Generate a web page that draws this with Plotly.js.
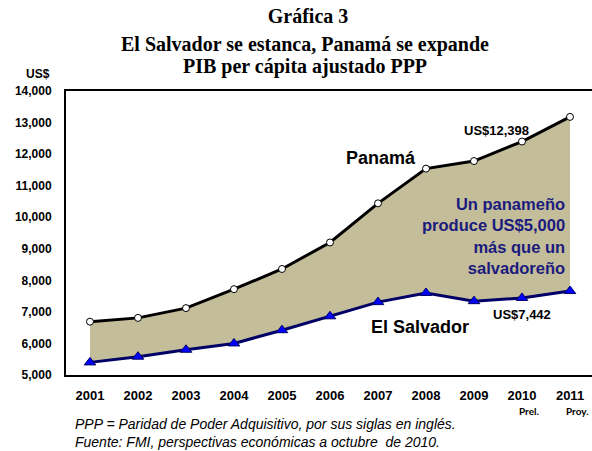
<!DOCTYPE html>
<html>
<head>
<meta charset="utf-8">
<script src="https://cdn.plot.ly/plotly-3.0.1.min.js"></script>
<style>
  html, body { margin: 0; padding: 0; overflow: hidden; background: #fff; }
  #chart { width: 594px; height: 451px; }
</style>
</head>
<body>
<div id="chart"></div>
<script>
// ---- data ----
const years = [2001, 2002, 2003, 2004, 2005, 2006, 2007, 2008, 2009, 2010, 2011];
const yearLabels = ['2001', '2002', '2003', '2004', '2005', '2006', '2007', '2008', '2009', '2010', '2011'];
const panama = [6690, 6810, 7120, 7720, 8360, 9200, 10440, 11540, 11780, 12398, 13180];
const elSalvador = [5400, 5580, 5800, 6000, 6420, 6860, 7310, 7600, 7340, 7442, 7660];
const seriesNames = ['Panamá', 'El Salvador'];
const yTicks = [5000, 6000, 7000, 8000, 9000, 10000, 11000, 12000, 13000, 14000];
const noteLines = ['Un panameño', 'produce US$5,000', 'más que un', 'salvadoreño'];
const titleLines = ['Gráfica 3', 'El Salvador se estanca, Panamá se expande', 'PIB per cápita ajustado PPP'];
const footnotes = ['PPP = Paridad de Poder Adquisitivo, por sus siglas en inglés.',
                   'Fuente: FMI, perspectivas económicas a octubre  de 2010.'];
const yearNotes = {2010: 'Prel.', 2011: 'Proy.'};

// ---- layout helpers (pixel -> paper) ----
const W = 594, H = 451;
const M = {l: 66, r: 0, t: 91, b: 76};
const PW = W - M.l - M.r, PH = H - M.t - M.b;
const px = x => (x - M.l) / PW;
const py = y => (H - M.b - y) / PH;

const sans = 'Arial, "Liberation Sans", sans-serif';
const serif = '"Book Antiqua", Palatino, "Liberation Serif", serif';
const fmt = v => 'US$' + v.toLocaleString('en-US');

const traces = [
  {
    x: years, y: elSalvador, name: seriesNames[1], type: 'scatter', mode: 'lines+markers',
    line: {color: '#000066', width: 3},
    marker: {symbol: 'triangle-up', size: 10, color: '#0000FF', line: {color: '#000066', width: 1}},
    hoverinfo: 'x+y'
  },
  {
    x: years, y: panama, name: seriesNames[0], type: 'scatter', mode: 'lines+markers',
    fill: 'tonexty', fillcolor: '#C4BD99',
    line: {color: '#000000', width: 3},
    marker: {symbol: 'circle', size: 7, color: '#FFFFFF', line: {color: '#000000', width: 1}},
    hoverinfo: 'x+y'
  }
];

const annotations = [];
// subtitle lines
annotations.push({xref: 'paper', yref: 'paper', x: px(305), y: py(44), xanchor: 'center', yanchor: 'middle',
  text: '<b>' + titleLines[1] + '</b>', showarrow: false, font: {family: serif, size: 20, color: '#000'}});
annotations.push({xref: 'paper', yref: 'paper', x: px(305), y: py(67), xanchor: 'center', yanchor: 'middle',
  text: '<b>' + titleLines[2] + '</b>', showarrow: false, font: {family: serif, size: 20, color: '#000'}});
// US$ unit label
annotations.push({xref: 'paper', yref: 'paper', x: px(38), y: py(74), xanchor: 'center', yanchor: 'middle',
  text: '<b>US$</b>', showarrow: false, font: {family: sans, size: 12, color: '#000'}});
// series labels
annotations.push({xref: 'paper', yref: 'paper', x: px(381), y: py(158), xanchor: 'center', yanchor: 'middle',
  text: '<b>' + seriesNames[0] + '</b>', showarrow: false, font: {family: sans, size: 18, color: '#000'}});
annotations.push({xref: 'paper', yref: 'paper', x: px(420), y: py(327), xanchor: 'center', yanchor: 'middle',
  text: '<b>' + seriesNames[1] + '</b>', showarrow: false, font: {family: sans, size: 18, color: '#000'}});
// value labels
const i2010 = years.indexOf(2010);
annotations.push({xref: 'x', yref: 'y', x: 2010, y: panama[i2010], xshift: -26, yshift: 11,
  text: '<b>' + fmt(panama[i2010]) + '</b>', showarrow: false, font: {family: sans, size: 13, color: '#000'}});
annotations.push({xref: 'x', yref: 'y', x: 2010, y: elSalvador[i2010], xshift: 0, yshift: -17,
  text: '<b>' + fmt(elSalvador[i2010]) + '</b>', showarrow: false, font: {family: sans, size: 13, color: '#000'}});
// navy note
annotations.push({xref: 'paper', yref: 'paper', x: px(567), y: py(236), xanchor: 'right', yanchor: 'middle', align: 'right',
  text: '<b>' + noteLines.join('<br>') + '</b>', showarrow: false, font: {family: sans, size: 16.5, color: '#1B1B7E'}});
// Prel./Proy.
Object.keys(yearNotes).forEach(k => {
  annotations.push({xref: 'x', yref: 'paper', x: +k, y: py(411), xshift: 7, xanchor: 'center', yanchor: 'middle',
    text: '<b>' + yearNotes[k] + '</b>', showarrow: false, font: {family: 'Lato, "Open Sans", sans-serif', size: 10, color: '#000'}});
});
// footnotes (one two-line block)
annotations.push({xref: 'paper', yref: 'paper', x: px(73), y: py(433), xanchor: 'left', yanchor: 'middle', align: 'left',
  text: '<i>' + footnotes.join('<br>') + '</i>', showarrow: false, font: {family: sans, size: 14, color: '#000'}});

const layout = {
  width: W, height: H,
  margin: M,
  paper_bgcolor: '#fff', plot_bgcolor: '#fff',
  showlegend: false,
  title: {
    text: '<b>' + titleLines[0] + '</b>',
    x: 308 / W, xanchor: 'center', y: 1 - 16 / H, yanchor: 'middle',
    font: {family: serif, size: 20, color: '#000'}
  },
  xaxis: {
    range: [2000.5, 2011.5], tickvals: years, ticktext: yearLabels.map(t => '<b>' + t + '</b>'),
    showgrid: false, zeroline: false, showline: true, linecolor: '#000', linewidth: 2, mirror: true,
    ticks: '', ticklabelstandoff: 7,
    tickfont: {family: sans, size: 13, color: '#000'}
  },
  yaxis: {
    range: [5000, 14000], tickvals: yTicks, ticktext: yTicks.map(v => '<b>' + v.toLocaleString('en-US') + '</b>'),
    showgrid: false, zeroline: false, showline: true, linecolor: '#000', linewidth: 2, mirror: true,
    ticks: '', ticklabelstandoff: 10,
    tickfont: {family: sans, size: 12, color: '#000'}
  },
  annotations: annotations
};

Plotly.newPlot('chart', traces, layout, {displayModeBar: false, staticPlot: true});
</script>
</body>
</html>
